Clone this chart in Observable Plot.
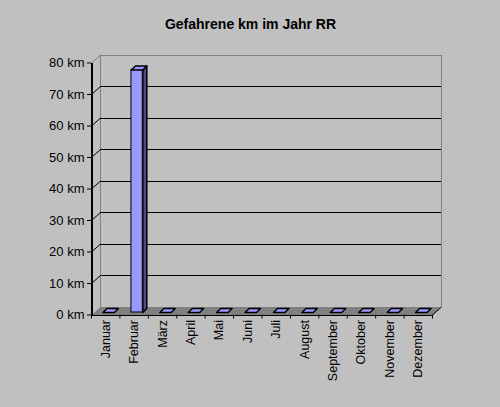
<!DOCTYPE html>
<html><head><meta charset="utf-8">
<script src="https://cdn.jsdelivr.net/npm/d3@7"></script>
<script src="https://cdn.jsdelivr.net/npm/@observablehq/plot@0.6"></script>
<style>html,body{margin:0;padding:0;background:#c0c0c0;} g[aria-label="title"] text{letter-spacing:0.3px;}</style>
</head><body><div id="chart"></div>
<script>
const title = "Gefahrene km im Jahr RR";
const months = ["Januar","Februar","März","April","Mai","Juni","Juli","August","September","Oktober","November","Dezember"];
const km = [0, 77, 0, 0, 0, 0, 0, 0, 0, 0, 0, 0];
const yTicks = [0, 10, 20, 30, 40, 50, 60, 70, 80];
const yMax = 80;

const W = 500, H = 407, ML = 91, MR = 68, MT = 62.5, MB = 92.5;
const n = months.length;
const kx = n / (W - ML - MR), ky = yMax / (H - MT - MB);
const DX = 9, DY = 8;          // floor depth in px
const BF = [3, 2.5], BB = [7, 6.5]; // bar front/back depth in px
const bw = 0.4;
const ox = (BB[0] - BF[0]) * kx, oy = (BB[1] - BF[1]) * ky;
const crisp = {shapeRendering: "crispEdges"};

const rows = months.map((m, i) => ({m, i, v: km[i]}));
const poly = (pts, id) => pts.map(([x, y]) => ({x, y, id}));
const floor = poly([[0, 0], [n, 0], [n + DX * kx, DY * ky], [DX * kx, DY * ky], [0, 0]], "floor");
const tops = rows.flatMap(r => {
  const x1 = r.i + 0.5 - bw / 2, x2 = r.i + 0.5 + bw / 2;
  return poly([[x1, r.v], [x2, r.v], [x2 + ox, r.v + oy], [x1 + ox, r.v + oy], [x1, r.v]], r.m);
});
const sides = rows.filter(r => r.v > 0).flatMap(r => {
  const x2 = r.i + 0.5 + bw / 2;
  return poly([[x2, 0], [x2, r.v], [x2 + ox, r.v + oy], [x2 + ox, oy], [x2, 0]], r.m);
});

const plot = Plot.plot({
  width: W, height: H,
  marginLeft: ML, marginRight: MR, marginTop: MT, marginBottom: MB,
  style: {background: "#c0c0c0", color: "black", fontFamily: "'Liberation Sans', Arial, sans-serif", fontSize: "12px"},
  x: {domain: [0, n]},
  y: {domain: [0, yMax]},
  marks: [
    Plot.line(floor, {x: "x", y: "y", z: "id", fill: "#808080", stroke: "none"}),
    Plot.ruleX([0, n], {y1: 0, y2: yMax, dx: DX, dy: -DY, stroke: "#808080", ...crisp}),
    Plot.ruleY([yMax], {x1: 0, x2: n, dx: DX, dy: -DY, stroke: "#808080", ...crisp}),
    Plot.ruleY(yTicks.filter(d => d > 0 && d < yMax), {x1: 0, x2: n, dx: DX, dy: -DY, stroke: "black", ...crisp}),
    Plot.link(yTicks.filter(d => d > 0 && d < yMax), {x1: 0, y1: d => d, x2: DX * kx, y2: d => d + DY * ky, stroke: "black"}),
    Plot.link([yMax], {x1: 0, y1: d => d, x2: DX * kx, y2: d => d + DY * ky, stroke: "#808080"}),
    Plot.link([n], {x1: d => d, y1: 0, x2: d => d + DX * kx, y2: DY * ky, stroke: "black"}),
    Plot.ruleX([0], {y1: 0, y2: yMax, stroke: "black", strokeWidth: 2, ...crisp}),
    Plot.ruleY([0], {x1: 0, x2: n, stroke: "black", ...crisp}),
    Plot.line(sides, {x: "x", y: "y", z: "id", dx: BF[0], dy: -BF[1], fill: "#4c4c80", stroke: "black"}),
    Plot.rect(rows.filter(r => r.v > 0), {x1: r => r.i + 0.5 - bw / 2, x2: r => r.i + 0.5 + bw / 2, y1: 0, y2: "v", dx: BF[0], dy: -BF[1], fill: "#9999ff", stroke: "black"}),
    Plot.line(tops, {x: "x", y: "y", z: "id", dx: BF[0], dy: -BF[1], fill: "#9999ff", stroke: "black"}),
    Plot.axisY({ticks: yTicks, tickFormat: d => `${d} km`, tickSize: 4, tickPadding: 3, label: null, fontSize: 13}),
    Plot.axisX({ticks: d3.range(n + 1), tickSize: 4, tickFormat: () => "", label: null}),
    Plot.axisX({ticks: rows.map(r => r.i + 0.5), tickSize: 0, tickPadding: 5, tickRotate: -90, tickFormat: d => months[Math.floor(d)], label: null, fontSize: 12.5}),
    Plot.text([title], {frameAnchor: "top", dx: 250 - (ML + (W - ML - MR) / 2), dy: 24 - MT, lineAnchor: "middle", fontWeight: "bold", fontSize: 14, ariaLabel: "title"})
  ]
});
document.getElementById("chart").appendChild(plot);
</script>
</body></html>
